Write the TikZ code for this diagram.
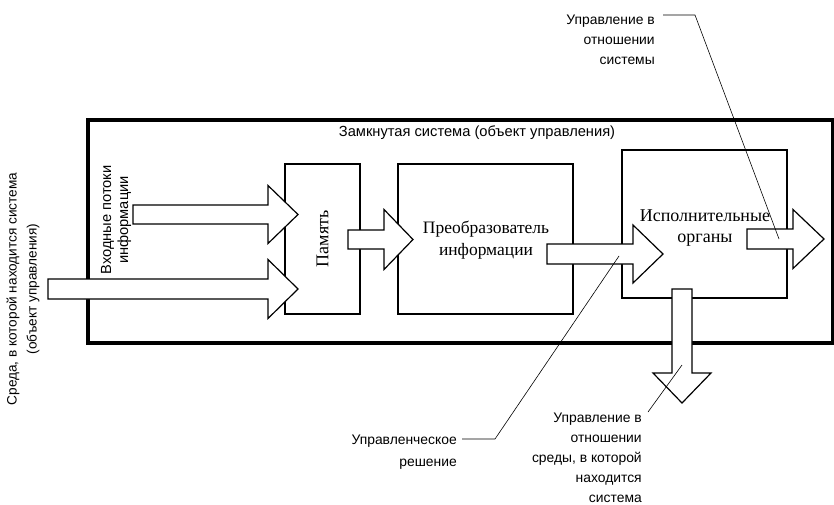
\documentclass[tikz,border=0pt]{standalone}
\usepackage{fontspec}
\setmainfont{Liberation Serif}
\setsansfont{Liberation Sans}
\usetikzlibrary{calc}
\providecommand{\rblock}[6]{%
  \draw[blk] (#1,{#4-#5}) -- (#2,{#4-#5}) -- (#2,{#4-#6}) -- (#3,#4) -- (#2,{#4+#6}) -- (#2,{#4+#5}) -- (#1,{#4+#5}) -- cycle;}
\providecommand{\dblock}[6]{%
  \draw[blk] ({#1-#5},#2) -- ({#1+#5},#2) -- ({#1+#5},#3) -- ({#1+#6},#3) -- (#1,#4) -- ({#1-#6},#3) -- ({#1-#5},#3) -- cycle;}

\begin{document}
\begin{tikzpicture}[x=0.75pt,y=-0.75pt,
  outer/.style={draw,line width=2.4pt,inner sep=0pt},
  box/.style={draw,line width=1.3pt,inner sep=0pt},
  blk/.style={draw,fill=white,line width=0.9pt,line join=miter},
  lead/.style={line width=0.45pt},
  lbl/.style={font=\sffamily\fontsize{10.4}{15}\selectfont,inner sep=0pt},
  big/.style={font=\fontsize{13.5}{17}\selectfont,align=center,inner sep=0pt}]
  \useasboundingbox (0,0) rectangle (834,504);
  \node[outer,minimum width=558.75pt,minimum height=167.25pt] (sys) at (460.5,231.5) {};
  \node[lbl,font=\sffamily\fontsize{11}{15}\selectfont] (ttl) at (477,133) {Замкнутая система (объект управления)};
  \node[box,minimum width=56.25pt,minimum height=112.5pt] (mem) at (322.5,239) {};
  \node[box,minimum width=131.25pt,minimum height=112.5pt] (conv) at (485.5,239) {};
  \node[box,minimum width=123.75pt,minimum height=111pt] (exec) at (704.5,224) {};
  \node[big,rotate=90] (memtxt) at (mem) {Память};
  \node[big,font=\fontsize{13.1}{17}\selectfont] (convtxt) at (486,240) {Преобразователь\\информации};
  \node[big,font=\fontsize{13.5}{16}\selectfont] (exectxt) at (705,228) {Исполнительные\\органы};

  \rblock{133}{268}{298}{214.5}{9.5}{29}
  \rblock{48}{268}{298}{289}{10}{29.5}
  \rblock{348}{384}{413}{239.5}{9.5}{30}
  \rblock{547}{633}{663}{254}{10}{29}
  \rblock{747}{793}{824}{239}{10}{29.5}
  \dblock{682}{289}{373}{403}{10}{29}

  \node[lbl,rotate=90,align=center,font=\sffamily\fontsize{10.2}{15}\selectfont] (env) at (23,289) {Среда, в которой находится система\\(объект управления)};
  \node[lbl,rotate=90,align=center,font=\sffamily\fontsize{11}{12.75}\selectfont] (inp) at (116,220) {Входные потоки\\информации};
  \node[lbl,align=right,anchor=north east] (ctlsys) at (655,15) {Управление в\\отношении\\системы};
  \node[lbl,align=right,anchor=north east,font=\sffamily\fontsize{10.4}{16}\selectfont] (ctldec) at (457,435) {Управленческое\\решение};
  \node[lbl,align=right,anchor=north east] (ctlenv) at (642,413) {Управление в\\отношении\\среды, в которой\\находится\\система};

  \coordinate (tipsys) at (779,239);
  \coordinate (tipdec) at (619,256);
  \coordinate (tipenv) at (682,365);
  \draw[lead] ($(ctlsys.north east)+(8,0)$) -- ++(32,0) -- (tipsys);
  \draw[lead] ($(ctldec.north east)+(5,4)$) -- ++(33,0) -- (tipdec);
  \draw[lead] ($(ctlenv.north east)+(6,-1)$) -- (tipenv);
\end{tikzpicture}
\end{document}
